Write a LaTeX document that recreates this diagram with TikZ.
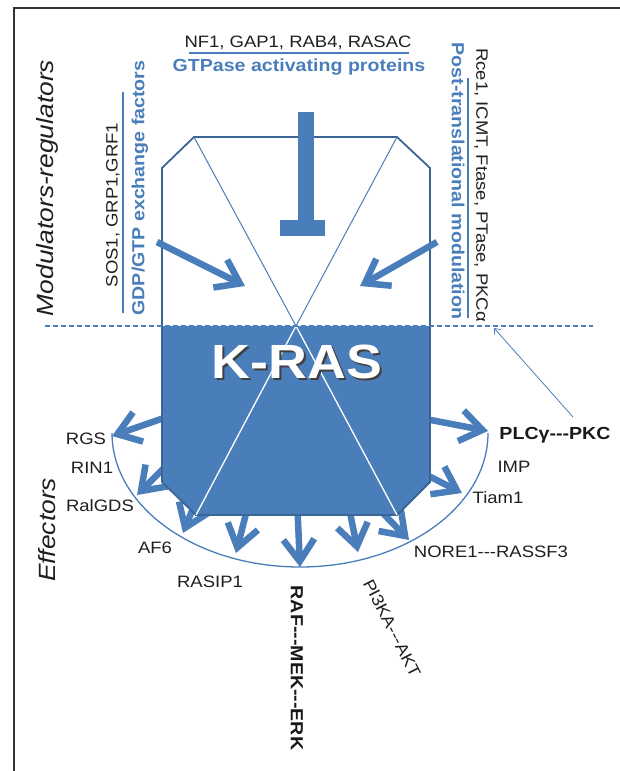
\documentclass[tikz,border=0pt]{standalone}
\usepackage{fontspec}
\setmainfont{Liberation Sans}[FakeStretch=1.12]
\usetikzlibrary{arrows.meta}
\definecolor{kblue}{HTML}{4A7EBB}
\definecolor{kdark}{HTML}{3A6594}
\definecolor{framegray}{HTML}{333333}
\newcommand\fsz[1]{\fontsize{#1}{#1}\selectfont}
\newcommand\tdash{-{}-{}-}
\begin{document}
\begin{tikzpicture}[x=1pt,y=-1pt,
  fat/.style={draw=kblue,line width=6.5pt,-{Straight Barb[length=22pt,width=31pt,sharp]}},
  lab/.style={font=\fsz{16.5},inner sep=0pt,text=black!88},
  blab/.style={font=\fsz{17.5}\bfseries,inner sep=0pt,text=black!90},
  bluelab/.style={font=\fsz{17.5}\bfseries,inner sep=0pt,text=kblue},
  side/.style={font=\fsz{23.5}\itshape,inner sep=0pt,text=black!88},
  uline/.style={draw=kblue,line width=1.8pt}]
\useasboundingbox (0,0) rectangle (620,771);
% frame
\coordinate (f1) at (620,8);
\coordinate (f2) at (14,8);
\coordinate (f3) at (14,771);
\draw[framegray,line width=2.5pt] (f1) -- (f2) -- (f3);

% shape corners
\coordinate (tl) at (194,137);
\coordinate (tr) at (397,137);
\coordinate (rt) at (430,168);
\coordinate (rm) at (430,326);
\coordinate (rb) at (430,482);
\coordinate (br) at (397,515);
\coordinate (bl) at (196,515);
\coordinate (lb) at (162,482);
\coordinate (lm) at (162,326);
\coordinate (lt) at (162,168);
\coordinate (apex) at (296,326);

% effector arrows (behind the shape)
\coordinate (s1) at (187,410); \coordinate (e1) at (112,436);
\coordinate (s2) at (175,457); \coordinate (e2) at (137,495);
\coordinate (s3) at (198,496); \coordinate (e3) at (183,533);
\coordinate (s4) at (250,498); \coordinate (e4) at (236,553);
\coordinate (s5) at (297,498); \coordinate (e5) at (300,567);
\coordinate (s6) at (347,498); \coordinate (e6) at (358,552);
\coordinate (s7) at (372,502); \coordinate (e7) at (409,540);
\coordinate (s8) at (415,469); \coordinate (e8) at (462,493);
\coordinate (s9) at (415,417); \coordinate (e9) at (488,431);
\foreach \i in {1,...,9} {\draw[fat] (s\i) -- (e\i);}

% effector arc
\coordinate (ac) at (300,433);
\begin{scope}
\clip (0,433) rectangle (620,771);
\draw[kblue,line width=1.3pt] (ac) ellipse [x radius=188,y radius=134];
\end{scope}

% shape
\fill[white] (lm) -- (lt) -- (tl) -- (tr) -- (rt) -- (rm) -- cycle;
\fill[kblue] (lm) -- (rm) -- (rb) -- (br) -- (bl) -- (lb) -- cycle;
\draw[kdark,line width=1.8pt,line join=miter] (lt) -- (tl) -- (tr) -- (rt) -- (rb) -- (br) -- (bl) -- (lb) -- cycle;
\draw[kblue,line width=1pt] (tl) -- (apex) -- (tr);
\draw[white,line width=1.3pt] (bl) -- (apex) -- (br);

% dashed line
\coordinate (dl) at (45,326);
\coordinate (dr) at (593,326);
\draw[kblue,line width=1.3pt,dash pattern=on 5pt off 3pt] (dl) -- (dr);

% inhibition T
\fill[kblue] (298,112) rectangle (314,220);
\fill[kblue] (280,220) rectangle (325,236);

% GEF / PTM arrows
\coordinate (ga) at (157,242); \coordinate (gb) at (245,286);
\coordinate (pa) at (437,242); \coordinate (pb) at (360,286);
\draw[fat] (ga) -- (gb);
\draw[fat] (pa) -- (pb);

% K-RAS with drop shadow
\node[font=\fsz{48}\bfseries,text=white,inner sep=0pt] (kras) at (297,363)
  {\makebox[0pt][l]{\hspace{2pt}\raisebox{-2pt}{\color{black!75}K-RAS}}K-RAS};

% top texts
\node[lab] (gaps) at (298,43) {NF1, GAP1, RAB4, RASAC};
\coordinate (u1) at (189,53); \coordinate (u2) at (409,53);
\draw[uline] (u1) -- (u2);
\node[bluelab] (gapt) at (299,67) {GTPase activating proteins};

% left vertical
\node[lab,rotate=90] (gefs) at (113,205) {SOS1, GRP1,GRF1};
\coordinate (v1) at (123,92); \coordinate (v2) at (123,313);
\draw[uline] (v1) -- (v2);
\node[bluelab,rotate=90] (geft) at (140,188) {GDP/GTP exchange factors};

% right vertical
\node[bluelab,rotate=-90] (ptmt) at (458,181) {Post-translational modulation};
\coordinate (w1) at (468,78); \coordinate (w2) at (468,318);
\draw[uline] (w1) -- (w2);
\node[lab,rotate=-90] (ptms) at (481,185) {Rce1, ICMT, Ftase, PTase, PKCα};

% side titles
\node[side,rotate=90] (modreg) at (47,188) {Modulators-regulators};
\node[side,rotate=90] (effs) at (47,530) {Effectors};

% effector labels
\node[lab] (rgs) at (86,439) {RGS};
\node[lab] (rin) at (92,468) {RIN1};
\node[lab] (ral) at (100,506) {RalGDS};
\node[lab] (af6) at (155,548) {AF6};
\node[lab] (rasip) at (210,582) {RASIP1};
\node[blab,rotate=-90] (raf) at (297,668) {RAF\tdash MEK\tdash ERK};
\node[lab,rotate=-63] (pi3k) at (392,628) {PI3KA\tdash AKT};
\node[lab] (nore) at (491,552) {NORE1\tdash RASSF3};
\node[lab] (tiam) at (498,498) {Tiam1};
\node[lab] (imp) at (514,467) {IMP};
\node[blab] (plc) at (555,435) {PLCγ\tdash PKC};

% pointer
\coordinate (pt1) at (573,417);
\coordinate (pt2) at (494,328);
\draw[kblue,line width=0.8pt,-{Straight Barb[length=5pt,width=8pt]}] (pt1) -- (pt2);
\end{tikzpicture}
\end{document}
